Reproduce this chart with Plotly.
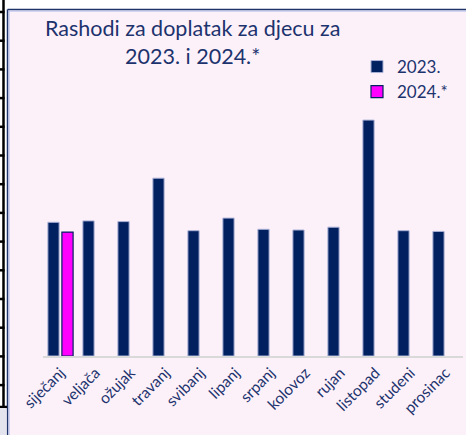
import plotly.graph_objects as go

# Monthly child allowance expenditure (million EUR)
months = ["siječanj", "veljača", "ožujak", "travanj", "svibanj", "lipanj",
          "srpanj", "kolovoz", "rujan", "listopad", "studeni", "prosinac"]
rashodi_2023 = [19.1, 19.3, 19.2, 25.4, 17.9, 19.7, 18.1, 18.0, 18.4, 33.7, 17.9, 17.8]
rashodi_2024 = [17.7, None, None, None, None, None, None, None, None, None, None, None]
title_lines = ["Rashodi za doplatak za djecu za", "2023. i 2024.*"]

NAVY = "#002060"
TEXT = "#1C336E"
PINK_BG = "#FDF1F9"

W, H = 466, 435
ML, MR, MT, MB = 43, 3, 100, 79


def fx(x):
    """pixel x -> paper x"""
    return (x - ML) / (W - ML - MR)


def fy(y):
    """pixel y (from top) -> paper y"""
    return (H - MB - y) / (H - MT - MB)


fig = go.Figure()
fig.add_trace(go.Bar(
    x=months, y=rashodi_2023, name="2023.",
    marker=dict(color=NAVY, line=dict(color="#A9B1D6", width=1)),
))
fig.add_trace(go.Bar(
    x=months, y=rashodi_2024, name="2024.*",
    marker=dict(color="#FF00FF", line=dict(color=NAVY, width=1.2)),
))

shapes = []
# chart area background and frame
shapes.append(dict(type="rect", xref="paper", yref="paper", layer="below",
                   x0=fx(8), x1=fx(W + 2), y0=fy(H + 2), y1=fy(9),
                   fillcolor=PINK_BG, line=dict(width=0)))
shapes.append(dict(type="line", xref="paper", yref="paper", layer="below",
                   x0=fx(7.5), x1=fx(W + 2), y0=fy(9.5), y1=fy(9.5),
                   line=dict(color="#1F3468", width=1.5)))
shapes.append(dict(type="line", xref="paper", yref="paper", layer="below",
                   x0=fx(9), x1=fx(W + 2), y0=fy(11), y1=fy(11),
                   line=dict(color="#A9B8E6", width=1)))
shapes.append(dict(type="line", xref="paper", yref="paper", layer="below",
                   x0=fx(7.5), x1=fx(7.5), y0=fy(9.5), y1=fy(H + 2),
                   line=dict(color="#1F3468", width=1.5)))
shapes.append(dict(type="line", xref="paper", yref="paper", layer="below",
                   x0=fx(9), x1=fx(9), y0=fy(11), y1=fy(H + 2),
                   line=dict(color="#A9B8E6", width=1)))
# left table rule with tick marks
shapes.append(dict(type="line", xref="paper", yref="paper", layer="below",
                   x0=fx(3.5), x1=fx(3.5), y0=fy(-2), y1=fy(407),
                   line=dict(color="black", width=2.5)))
for k in range(14):
    yy = 12 + 28.7 * k
    shapes.append(dict(type="line", xref="paper", yref="paper", layer="below",
                       x0=fx(-1), x1=fx(4.5), y0=fy(yy), y1=fy(yy),
                       line=dict(color="black", width=2.5)))
shapes.append(dict(type="line", xref="paper", yref="paper", layer="below",
                   x0=fx(-1), x1=fx(7), y0=fy(407), y1=fy(407),
                   line=dict(color="black", width=2.5)))
shapes.append(dict(type="rect", xref="paper", yref="paper", layer="below",
                   x0=fx(-1), x1=fx(6.5), y0=fy(H + 2), y1=fy(408),
                   fillcolor="#E4E4EE", line=dict(width=0)))

# two-line heading
annotations = [dict(text="<br>".join(title_lines), xref="paper", yref="paper",
                    x=fx(192), y=fy(42), xanchor="center", yanchor="middle",
                    align="center", showarrow=False,
                    font=dict(size=21.5, color=TEXT))]

fig.update_layout(
    width=W, height=H,
    margin=dict(l=ML, r=MR, t=MT, b=MB, pad=0),
    paper_bgcolor="white",
    plot_bgcolor="rgba(0,0,0,0)",
    barmode="group", bargap=0.2, bargroupgap=0.2,
    font=dict(family="Lato, sans-serif", color=TEXT),
    legend=dict(x=fx(357), y=fy(49), xanchor="left", yanchor="top",
                bgcolor="rgba(0,0,0,0)", font=dict(size=17, color=TEXT),
                itemwidth=30),
    xaxis=dict(showline=True, linecolor="#D9D9D9", linewidth=1.5,
               ticks="", tickangle=-45, tickfont=dict(size=15.5, color=TEXT),
               showgrid=False, fixedrange=True),
    yaxis=dict(range=[0, 256 / 7], visible=False, showgrid=False,
               zeroline=False, fixedrange=True),
    annotations=annotations,
    shapes=shapes,
)

fig.write_html("out.html")
